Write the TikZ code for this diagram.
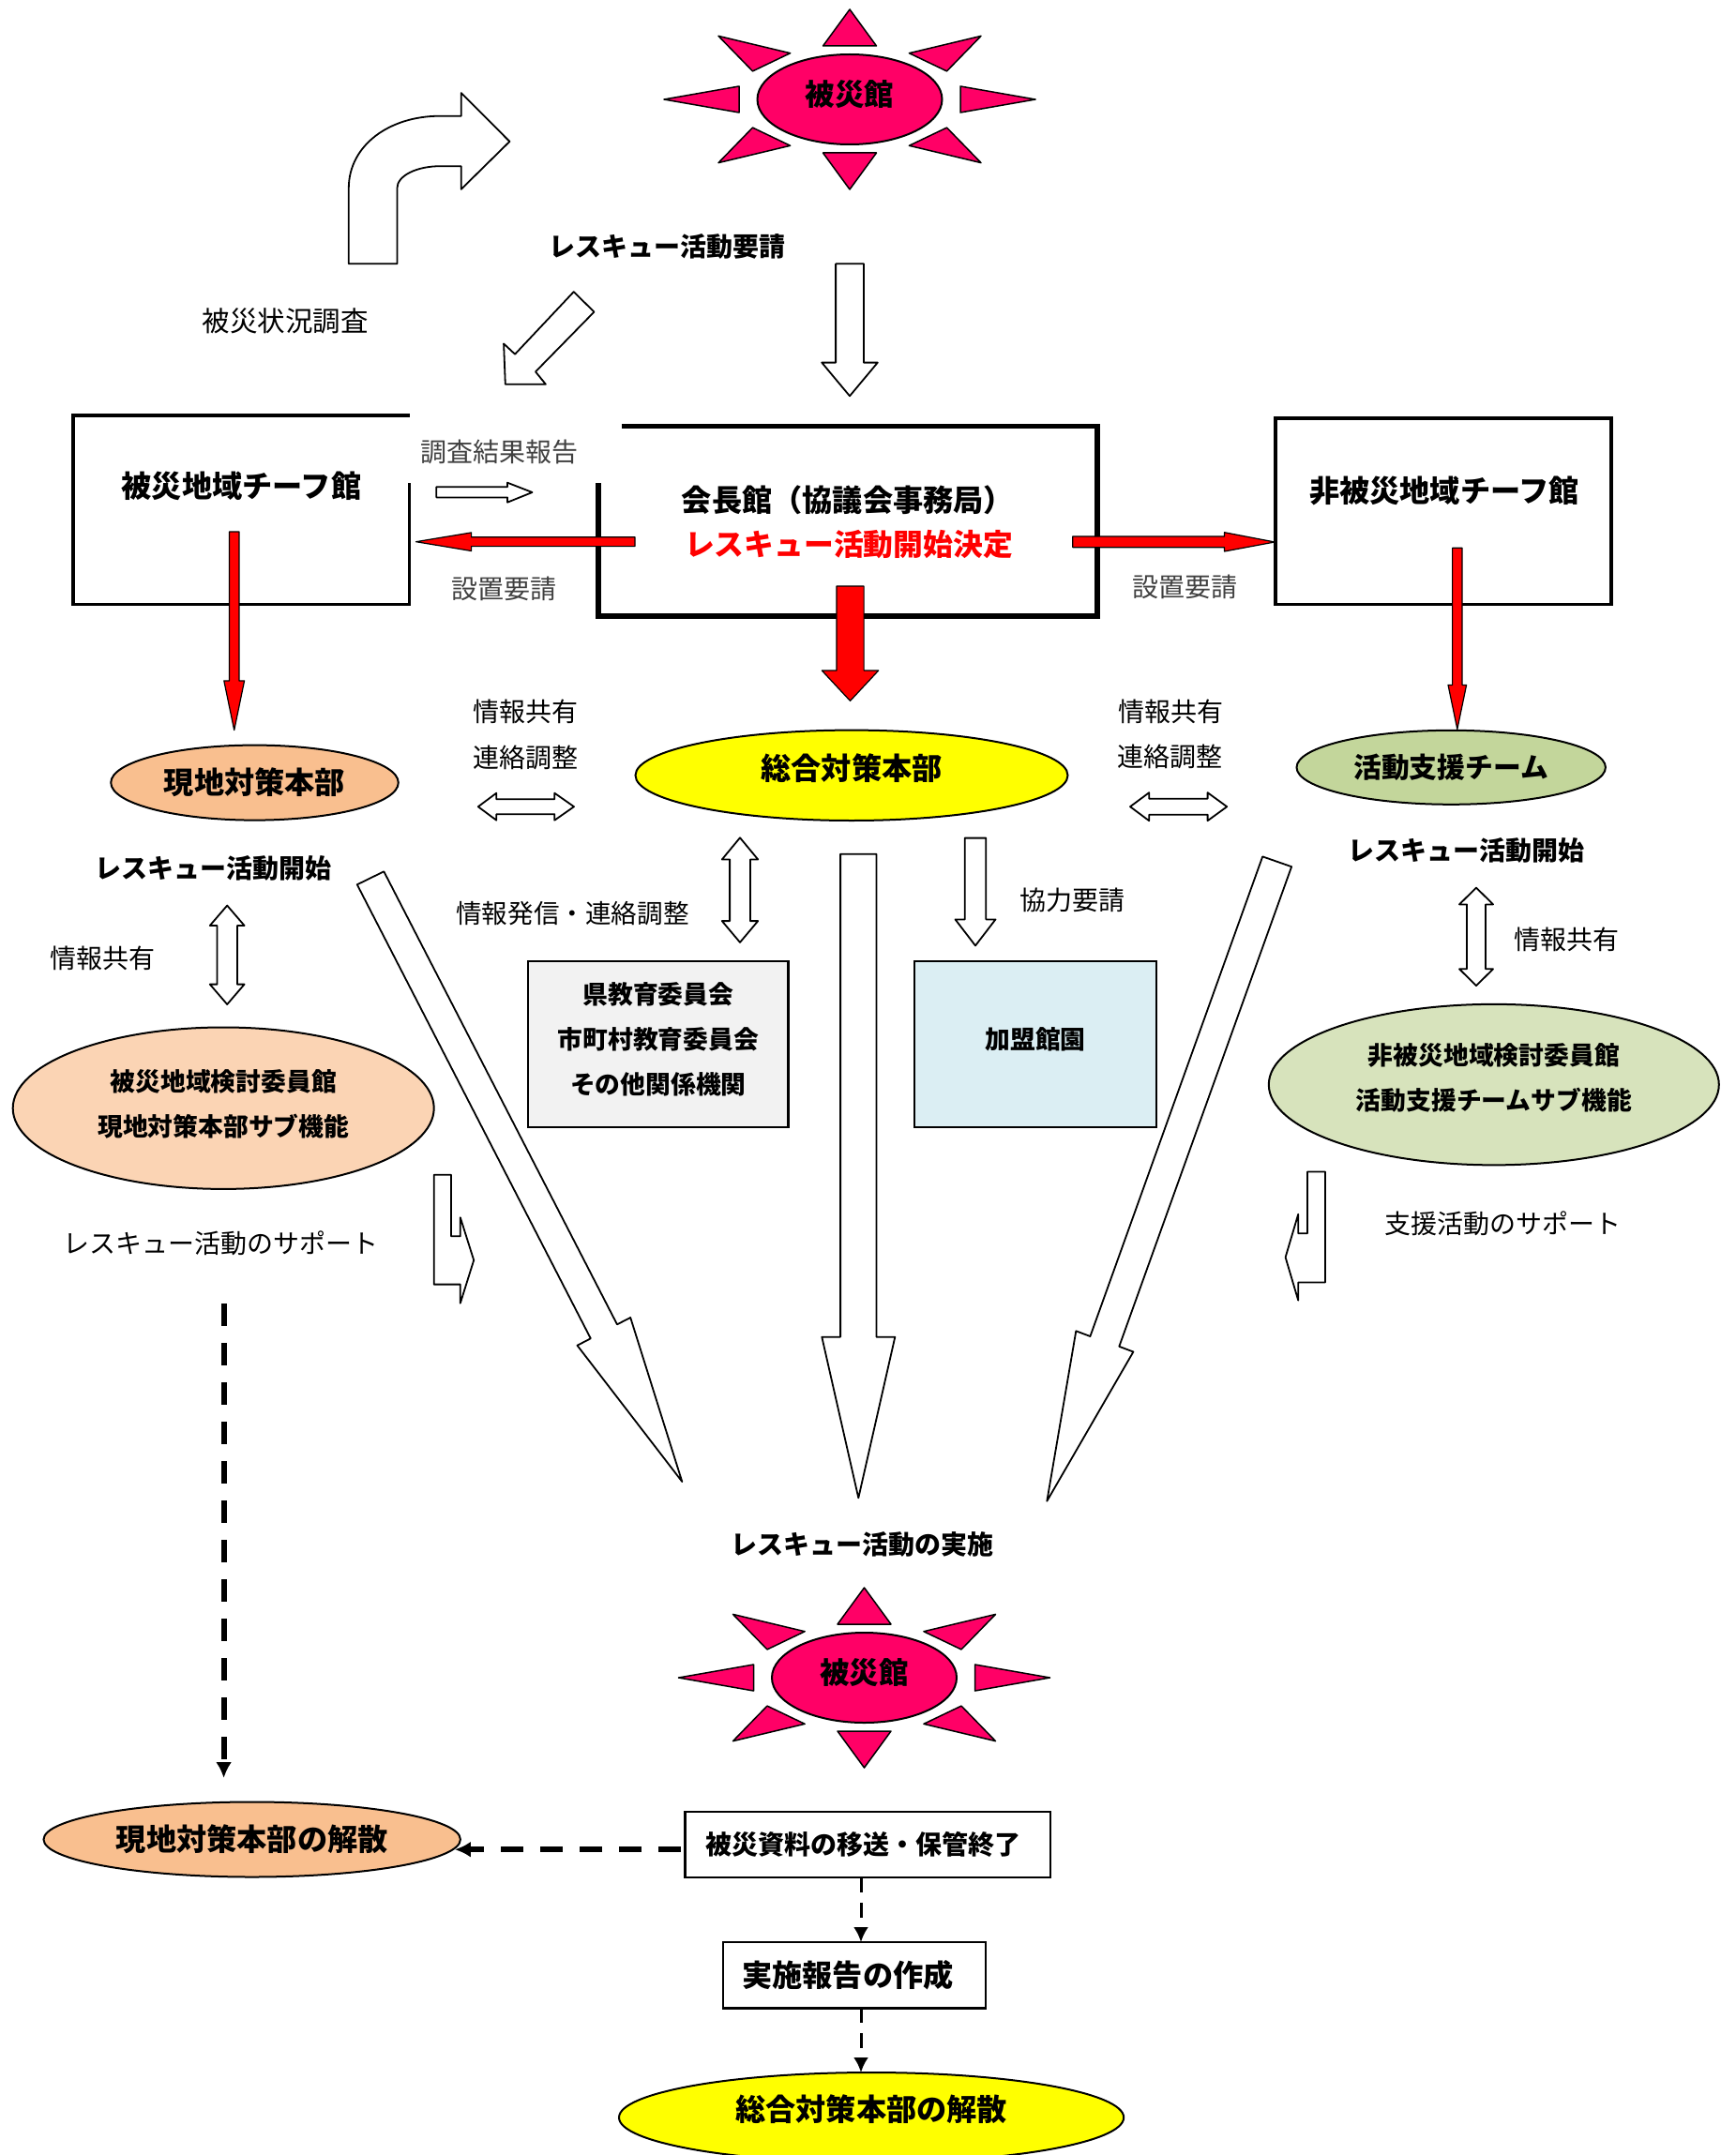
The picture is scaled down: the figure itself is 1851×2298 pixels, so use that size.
\documentclass[tikz,border=0pt]{standalone}
\usepackage{fontspec}
\setmainfont{Noto Sans CJK JP}
\usetikzlibrary{arrows.meta,shapes.geometric}
\definecolor{rayred}{HTML}{FF0066}
\definecolor{honbu}{HTML}{F9BF8F}
\definecolor{honbusub}{HTML}{FBD4B4}
\definecolor{shien}{HTML}{C3D69B}
\definecolor{shiensub}{HTML}{D7E3BC}
\definecolor{kamei}{HTML}{DBEEF3}
\definecolor{sogocol}{RGB}{255,255,0}
\definecolor{redcol}{RGB}{255,0,0}
\newcommand{\fsz}[1]{\fontsize{#1}{48}\selectfont}
\newcommand{\titlelabeltext}[1]{{\bfseries\fsz{32.2}#1}}
\tikzset{
  shapeline/.style={draw=black,line width=1.8pt,fill=white,line join=round},
  redline/.style={draw=black,line width=1.2pt,fill=redcol,line join=round},
  ray/.style={draw=black,line width=1.5pt,fill=rayred,line join=round},
  oval/.style={shape=ellipse,draw=black,line width=2pt,inner sep=0pt,outer sep=0pt},
  plainbox/.style={draw=black,line width=2.2pt,inner sep=0pt,outer sep=0pt},
  sublabel/.style={font=\fsz{28},inner sep=0pt},
  mainlabel/.style={font=\bfseries\fsz{28},inner sep=0pt},
  titlelabel/.style={font=\bfseries\fsz{32.2},inner sep=0pt},
  dashbig/.style={line width=6pt,dash pattern=on 24pt off 18pt,-{Latex[length=17pt,width=17pt]}},
  dashthin/.style={line width=3pt,dash pattern=on 16pt off 11pt,-{Latex[length=16pt,width=16pt]}}
}
% 被災館のマーク
\newcommand{\sunburst}[3]{
\begin{scope}[shift={(#2,#3)}]
\foreach \sx/\sy in {1/1,1/-1,-1/1,-1/-1}
  \draw[ray] (\sx*140,\sy*67.6) -- (\sx*63.4,\sy*49.3) -- (\sx*103.5,\sy*30.1) -- cycle;
\foreach \sy in {1,-1}{
  \draw[ray] (0,\sy*96) -- (-28.5,\sy*57) -- (28.5,\sy*57) -- cycle;
  \draw[ray] (\sy*198,0) -- (\sy*118,-14) -- (\sy*118,14) -- cycle;
}
\node[oval,fill=rayred,minimum width=197pt,minimum height=96pt,font=\bfseries\fsz{31.5}] (#1) at (0,0) {\raisebox{14pt}{被災館}};
\end{scope}
}
% 縦の矢印（中心x,上端,首,先端,軸半幅,頭半幅）
\newcommand{\downblock}[7]{
\draw[#1] (#2-#6,#3) -- (#2+#6,#3) -- (#2+#6,#4) -- (#2+#7,#4) -- (#2,#5) -- (#2-#7,#4) -- (#2-#6,#4) -- cycle;
}
% 縦の両矢印
\newcommand{\updown}[7]{
\draw[shapeline] (#1,#2) -- (#1+#7,#3) -- (#1+#6,#3) -- (#1+#6,#4) -- (#1+#7,#4) -- (#1,#5) -- (#1-#7,#4) -- (#1-#6,#4) -- (#1-#6,#3) -- (#1-#7,#3) -- cycle;
}
% 横の両矢印
\newcommand{\leftright}[7]{
\draw[shapeline] (#2,#1) -- (#3,#1+#7) -- (#3,#1+#6) -- (#4,#1+#6) -- (#4,#1+#7) -- (#5,#1) -- (#4,#1-#7) -- (#4,#1-#6) -- (#3,#1-#6) -- (#3,#1-#7) -- cycle;
}
\begin{document}
\begin{tikzpicture}[x=1pt,y=-1pt]
\useasboundingbox (0,0) rectangle (1851,2298);
\clip (0,0) rectangle (1851,2298);

%上の被災館
\sunburst{hisaiA}{906}{106}

%被災状況調査の矢印
\draw[shapeline] (371.8,281.3) -- (423.4,281.3) -- (423.4,200.9) .. controls (423.4,187) and (445,177.2) .. (469.3,177.2) -- (491.7,177.2) -- (491.7,201.8) -- (543.4,150.9) -- (491.7,99.1) -- (491.7,123.7) -- (469.3,123.7) .. controls (415,123.7) and (371.8,155) .. (371.8,200.9) -- cycle;
\node[font=\fsz{29.5},inner sep=0pt] (chosa) at (304,342.5) {被災状況調査};
\node[mainlabel] (yosei) at (711.8,262.5) {レスキュー活動要請};
\draw[shapeline] (611.7,311.2) -- (633.5,332.6) -- (571,396.4) -- (581.9,409.8) -- (538.8,409.8) -- (537.1,366.5) -- (549.1,377.7) -- cycle;
\downblock{shapeline}{906}{281.3}{386.6}{422.3}{14.9}{29.8}

%チーフ館と会長館
\draw[black,line width=3.6pt,line join=miter] (436.6,443) -- (78,443) -- (78,644.5) -- (436.6,644.5) -- (436.6,514.7);
\draw[black,line width=5.5pt,line join=miter] (662.8,454.5) -- (1170,454.5) -- (1170,657) -- (638,657) -- (638,514.7);
\draw[black,line width=3.6pt] (1360,445.9) rectangle (1718.2,644.3);
\node[titlelabel] (chiefL) at (257.5,518) {被災地域チーフ館};
\node[titlelabel] (chiefR) at (1540,523) {非被災地域チーフ館};
\node[titlelabel] (kaicho) at (904,533) {会長館（協議会事務局）};
\node[titlelabel,text=redcol,font=\bfseries\fsz{31.8}] (kettei) at (905,581) {レスキュー活動開始決定};
\node[sublabel,text=black!75] (hokoku) at (532.5,481.5) {調査結果報告};
\node[sublabel,text=black!75] (setchiL) at (537.6,628) {設置要請};
\node[sublabel,text=black!75] (setchiR) at (1263.7,625.5) {設置要請};
\draw[shapeline] (465.3,519.2) -- (541,519.2) -- (541,514.7) -- (567.5,525) -- (541,535.7) -- (541,530.4) -- (465.3,530.4) -- cycle;

%赤い矢印
\draw[redline] (677,572.8) -- (502.6,572.8) -- (502.6,567.9) -- (443.5,577.7) -- (502.6,587.5) -- (502.6,582.6) -- (677,582.6) -- cycle;
\draw[redline] (1143.8,572) -- (1305.5,572) -- (1305.5,567.7) -- (1359.2,578) -- (1305.5,588) -- (1305.5,583.7) -- (1143.8,583.7) -- cycle;
\downblock{redline}{249.7}{567}{725.9}{778.6}{5.2}{10.9}
\downblock{redline}{906.5}{625}{715}{747.4}{14.6}{30.2}
\downblock{redline}{1553.8}{584.3}{730.4}{777.6}{5.2}{9.8}

%対策本部
\node[oval,fill=honbu,minimum width=306.5pt,minimum height=80pt] (genchi) at (271.5,834.6) {\raisebox{2pt}{\titlelabeltext{現地対策本部}}};
\node[oval,fill=sogocol,minimum width=461pt,minimum height=96.4pt] (sogo) at (908,826.8) {\raisebox{19pt}{\titlelabeltext{総合対策本部}}};
\node[oval,fill=shien,minimum width=329.4pt,minimum height=79pt,font=\bfseries\fsz{29.8}] (katsudo) at (1547.2,818.3) {\raisebox{2pt}{活動支援チーム}};

\node[sublabel] (kyoyuA) at (560.5,759) {情報共有};
\node[sublabel] (renrakuA) at (560.5,807.6) {連絡調整};
\node[sublabel] (kyoyuB) at (1248,759) {情報共有};
\node[sublabel] (renrakuB) at (1247,807) {連絡調整};
\leftright{860.2}{509.8}{529.3}{591.3}{612}{8}{14.5}
\leftright{860.2}{1205}{1225.2}{1287.6}{1308.2}{8.5}{15}

\node[mainlabel] (kaishiL) at (227.3,926) {レスキュー活動開始};
\node[mainlabel] (kaishiR) at (1563.8,907) {レスキュー活動開始};
\node[sublabel] (kyoyuL) at (109,1022) {情報共有};
\node[sublabel] (kyoyuR) at (1670,1001.4) {情報共有};
\node[sublabel,font=\fsz{27.6}] (hasshin) at (610.5,974) {情報発信・連絡調整};
\node[sublabel] (kyoryoku) at (1143,960) {協力要請};

\updown{242.2}{965.6}{987}{1049.6}{1071}{10.7}{18.4}
\updown{789}{893.3}{916.5}{982.1}{1004.9}{10.9}{19.2}
\updown{1574}{946.6}{964.4}{1033.3}{1051.1}{10}{18}
\downblock{shapeline}{1040}{893.6}{980.4}{1008.4}{11.3}{21.5}

%関係機関
\node[plainbox,fill=black!5,minimum width=277.3pt,minimum height=177.2pt,font=\bfseries\fsz{26.8}] (kikan) at (701.8,1113.2) {\raisebox{-2pt}[0pt][0pt]{\begin{tabular}{@{}c@{}}県教育委員会\\市町村教育委員会\\その他関係機関\end{tabular}}};
\node[plainbox,fill=kamei,minimum width=258.7pt,minimum height=176.7pt,font=\bfseries\fsz{26.8}] (kamei) at (1104,1113.3) {\raisebox{13pt}{加盟館園}};

%サブ機能
\node[oval,fill=honbusub,minimum width=449pt,minimum height=172.4pt,font=\bfseries\fsz{26.8}] (subL) at (238.2,1181.7) {\raisebox{-2pt}[0pt][0pt]{\begin{tabular}{@{}c@{}}被災地域検討委員館\\現地対策本部サブ機能\end{tabular}}};
\node[oval,fill=shiensub,minimum width=480pt,minimum height=171.5pt,font=\bfseries\fsz{26.8}] (subR) at (1592.8,1156.6) {\raisebox{0pt}[0pt][0pt]{\begin{tabular}{@{}c@{}}非被災地域検討委員館\\活動支援チームサブ機能\end{tabular}}};

\node[sublabel] (supportL) at (235.3,1326) {レスキュー活動のサポート};
\node[sublabel] (supportR) at (1602.5,1304.5) {支援活動のサポート};
\draw[shapeline] (462.7,1252.7) -- (481,1252.7) -- (481,1318.3) -- (490.8,1318.3) -- (490.8,1298.2) -- (505.2,1343.8) -- (490.8,1389.7) -- (490.8,1369.6) -- (462.7,1369.6) -- cycle;
\draw[shapeline] (1393.9,1249.5) -- (1412.9,1249.5) -- (1412.9,1367.5) -- (1384.2,1367.5) -- (1384.2,1386.6) -- (1370.6,1340.7) -- (1384.2,1294.8) -- (1384.2,1315.2) -- (1393.9,1315.2) -- cycle;

%大きな矢印
\draw[shapeline] (380.8,943.3) -- (409.3,929.3) -- (658,1412.3) -- (672.2,1405) -- (727.3,1580) -- (615.5,1434.7) -- (629.8,1427.3) -- cycle;
\downblock{shapeline}{915.3}{910.7}{1425.7}{1597.3}{19.2}{39}
\draw[shapeline] (1346.2,913.4) -- (1377.1,924.2) -- (1193.3,1435.8) -- (1208.4,1441.5) -- (1116.3,1600.7) -- (1147.3,1419.3) -- (1162.4,1425) -- cycle;

%実施
\node[mainlabel] (jisshi) at (919,1646.5) {レスキュー活動の実施};
\sunburst{hisaiB}{921.5}{1789}

%解散まで
\coordinate (dashTop) at (238.6,1390);
\coordinate (dashEnd) at (238.6,1896);
\draw[dashbig] (dashTop) -- (dashEnd);
\node[oval,fill=honbu,minimum width=444.4pt,minimum height=80pt] (genchiEnd) at (268.7,1961.5) {\raisebox{2pt}{\titlelabeltext{現地対策本部の解散}}};
\node[plainbox,fill=white,minimum width=389.7pt,minimum height=69.9pt,font=\bfseries\fsz{28}] (iso) at (925.4,1967) {\hspace*{-10pt}\raisebox{-1pt}{被災資料の移送・保管終了}};
\node[plainbox,fill=white,minimum width=279.5pt,minimum height=70.4pt,font=\bfseries\fsz{32.2}] (report) at (910.9,2106.2) {\hspace*{-14pt}実施報告の作成};
\node[oval,fill=sogocol,minimum width=538.2pt,minimum height=96pt] (sogoEnd) at (929.1,2258) {\raisebox{20pt}{\titlelabeltext{総合対策本部の解散}}};
\draw[dashbig] ([xshift=-5pt,yshift=-5.2pt]iso.west) -- ([xshift=-6pt,yshift=-10.7pt]genchiEnd.east);
\draw[dashthin] ([xshift=-7.4pt]iso.south) -- ([xshift=7.1pt]report.north);
\draw[dashthin] ([xshift=7.1pt]report.south) -- ([xshift=-11.1pt]sogoEnd.north);
\end{tikzpicture}
\end{document}
